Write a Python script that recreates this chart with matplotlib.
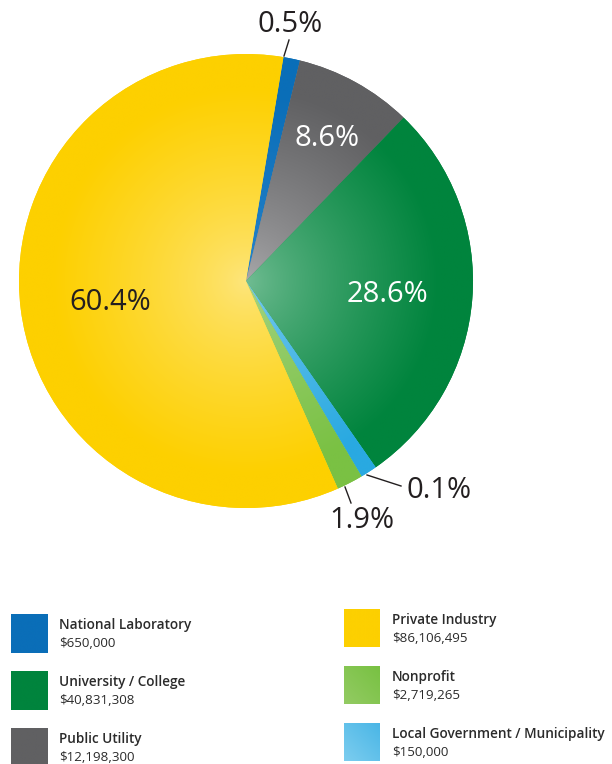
import numpy as np
import matplotlib
matplotlib.use("Agg")
import matplotlib.pyplot as plt
from matplotlib.colors import to_rgb

# ---------------- data ----------------
categories = ["National Laboratory", "Public Utility", "University / College",
              "Local Government / Municipality", "Nonprofit", "Private Industry"]
values = [650000, 12198300, 40831308, 150000, 2719265, 86106495]
edge_colors = ["#0A6EB8", "#606062", "#00843D", "#29A9E1", "#7AC143", "#FDD000"]
center_colors = ["#2A86CC", "#ABABAD", "#74BE95", "#7ECDEE", "#A8D58A", "#FEE680"]
swatch_light = ["#0A6EB8", "#606062", "#00843D", "#7CCDEF", "#93CB63", "#FDD000"]
swatch_dark = ["#0A6EB8", "#606062", "#00843D", "#4AB6E6", "#78C142", "#FDD000"]

legend_left = ["National Laboratory", "University / College", "Public Utility"]
legend_right = ["Private Industry", "Nonprofit", "Local Government / Municipality"]

W, H = 612, 764
fig = plt.figure(figsize=(W / 100, H / 100), dpi=100)
ax = fig.add_axes([0, 0, 1, 1])

def Y(y):
    return H - y

total = float(sum(values))
shares = np.array(values) / total
display = np.maximum(shares, 0.012)  # minimum visible slice width

cx, cy, R = 246, Y(281), 227
wedges, _ = ax.pie(display, colors=edge_colors, startangle=80.5, counterclock=False,
                   center=(cx, cy), radius=R, wedgeprops=dict(linewidth=0))
ax.set_xlim(0, W)
ax.set_ylim(0, H)
ax.set_aspect("equal")
ax.axis("off")

# radial gradient fill per wedge
n = 600
xs = np.linspace(cx - R, cx + R, n)
ys = np.linspace(cy - R, cy + R, n)
XX, YY = np.meshgrid(xs, ys)
rr = np.hypot(XX - cx, YY - cy) / R
t = np.clip(rr / 0.85, 0, 1) ** 0.75
for w, c0, c1 in zip(wedges, center_colors, edge_colors):
    a = np.array(to_rgb(c0)); b = np.array(to_rgb(c1))
    img = a[None, None, :] * (1 - t[..., None]) + b[None, None, :] * t[..., None]
    im = ax.imshow(img, extent=(cx - R, cx + R, cy - R, cy + R), origin="lower",
                   interpolation="bilinear", zorder=2)
    im.set_clip_path(w)

pct = [f"{s*100:.1f}%" for s in shares]
lab_font = dict(family="Open Sans", fontsize=21, fontweight="normal")
label_pos = {0: (290, 25, "#231F20"), 1: (327, 138, "white"), 2: (387, 294, "white"),
             3: (439, 491, "#231F20"), 4: (362, 521, "#231F20"), 5: (110, 302, "#231F20")}
for i, (x, y, col) in label_pos.items():
    ax.text(x, Y(y), pct[i], ha="center", va="center", color=col, zorder=5, **lab_font)

leaders = [((284, 56), (289, 40)), ((367, 475), (401, 486)), ((345, 487), (351, 503))]
for (x0, y0), (x1, y1) in leaders:
    ax.plot([x0, x1], [Y(y0), Y(y1)], color="#231F20", lw=1.0, zorder=5)

# ---------------- legend ----------------
idx_of = {c: i for i, c in enumerate(categories)}
val_of = dict(zip(categories, values))

def legend_item(name, sx, sy, sw, sh, tx):
    i = idx_of[name]
    a = np.array(to_rgb(swatch_light[i])); b = np.array(to_rgb(swatch_dark[i]))
    g = np.linspace(0, 1, 40)
    G = (g[None, :] + g[:, None]) / 2  # diagonal: bottom-left light -> top-right dark
    img = a * (1 - G[..., None]) + b * G[..., None]
    ax.imshow(img, extent=(sx, sx + sw, Y(sy + sh), Y(sy)), origin="lower",
              interpolation="bilinear", zorder=3)
    ax.text(tx, Y(sy + 15), name, fontsize=9.8, fontweight="semibold", family="Open Sans",
            color="#2B2B2B", va="baseline", ha="left")
    ax.text(tx, Y(sy + 33), f"${val_of[name]:,}", fontsize=9.6, family="Open Sans",
            color="#2B2B2B", va="baseline", ha="left")

for i, name in enumerate(legend_left):
    legend_item(name, 11, 614 + 57 * i, 37, 39, 59)
for i, name in enumerate(legend_right):
    legend_item(name, 344, 609 + 57 * i, 36, 38, 392)

ax.set_xlim(0, W)
ax.set_ylim(0, H)
fig.savefig("out.png", dpi=100)
